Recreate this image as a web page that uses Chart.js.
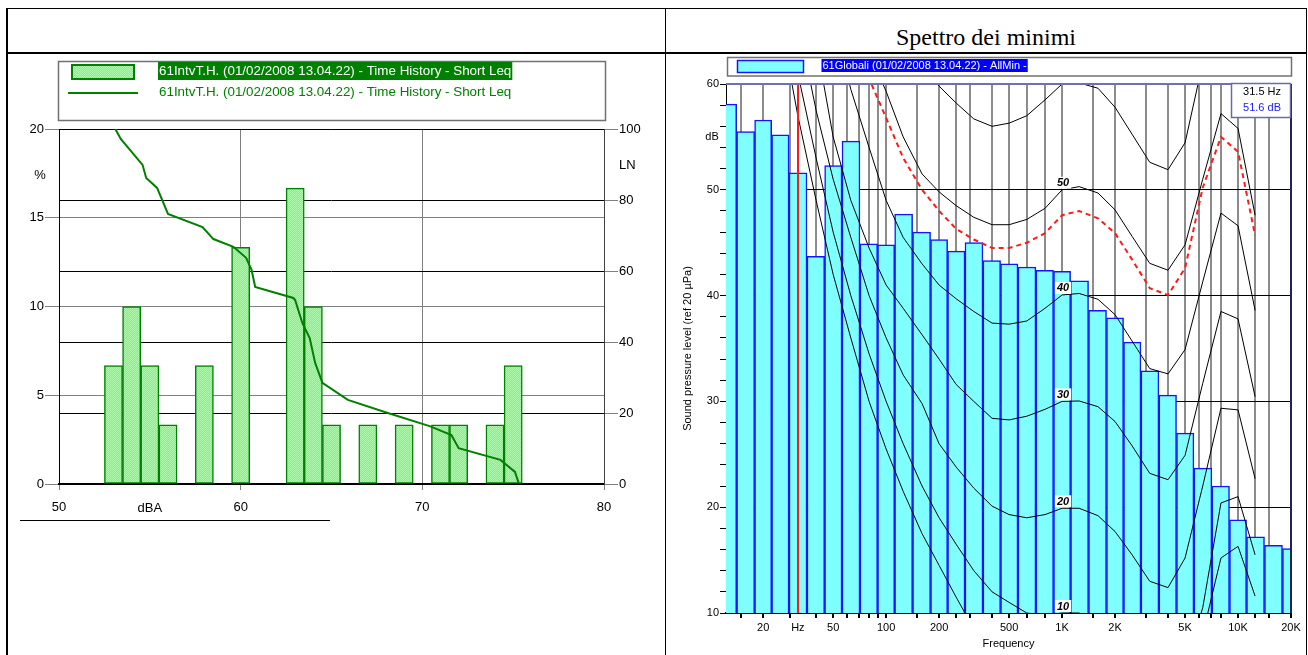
<!DOCTYPE html>
<html>
<head>
<meta charset="utf-8">
<script src="https://cdn.jsdelivr.net/npm/chart.js@4.4.1/dist/chart.umd.min.js"></script>
<style>
  body { margin: 0; background: #fff; }
  #page { position: relative; width: 1308px; height: 655px; overflow: hidden; }
  .ln { position: absolute; background: #000; }
  #title { position: absolute; left: 666px; width: 640px; top: 24px; line-height: 27px; text-align: center;
           font: 24px "Liberation Serif", "Times New Roman", serif; color: #000; }
  canvas { position: absolute; }
</style>
</head>
<body>
<div id="page">
  <div class="ln" style="left:6px;top:8px;width:1301px;height:1px"></div>
  <div class="ln" style="left:6px;top:8px;width:2px;height:647px"></div>
  <div class="ln" style="left:665px;top:8px;width:1px;height:647px"></div>
  <div class="ln" style="left:1306px;top:8px;width:1px;height:647px"></div>
  <div class="ln" style="left:6px;top:52px;width:1301px;height:2px"></div>
  <div class="ln" style="left:20px;top:520px;width:310px;height:1px"></div>
  <div id="title">Spettro dei minimi</div>
  <canvas id="histo" width="660" height="520" style="left:0;top:0"></canvas>
  <canvas id="spectrum" width="640" height="599" style="left:668px;top:56px"></canvas>
</div>
<script>
// ---- pannello sinistro: distribuzione livelli
const histLabel = '61IntvT.H. (01/02/2008 13.04.22) - Time History - Short Leq';
const dbaBins   = [53, 54, 55, 56, 57, 58, 59, 60, 61, 62, 63, 64, 65, 66, 67, 68, 69, 70, 71, 72, 73, 74, 75];
const pctValues = [6.67, 10, 6.67, 3.33, 0, 6.67, 0, 13.33, 0, 0, 16.67, 10, 3.33, 0, 3.33, 0, 3.33, 0, 3.33, 3.33, 0, 3.33, 6.67];
// curva cumulativa LN
const lnLevels  = [53.1, 53.4, 54.6, 54.8, 55.4, 56.0, 57.9, 58.5, 59.6, 60.3, 60.6, 60.8, 62.9, 63.0, 63.4, 63.8, 64.1, 64.5, 65.9, 68.1, 70.4, 71.6, 72.0, 74.3, 75.1, 75.3];
const lnPercent = [100, 97.2, 89.9, 86.2, 83.4, 76.1, 72.4, 69.0, 66.8, 63.7, 60.3, 55.5, 52.4, 51.8, 45.3, 41.1, 34.1, 28.5, 23.7, 20.0, 16.3, 13.8, 10.1, 6.8, 3.4, 0.3];

// ---- pannello destro: spettro dei minimi
const spectrumLabel = '61Globali (01/02/2008 13.04.22) - AllMin -';
const bandFreqs = [12.5, 16, 20, 25, 31.5, 40, 50, 63, 80, 100, 125, 160, 200, 250, 315, 400, 500, 630, 800,
                   1000, 1250, 1600, 2000, 2500, 3150, 4000, 5000, 6300, 8000, 10000, 12500, 16000, 20000];
const minLevels = [58.1, 55.5, 56.6, 55.2, 51.6, 43.7, 52.3, 54.6, 44.9, 44.8, 47.7, 46.0, 45.3, 44.2, 45.0, 43.3, 43.0, 42.7, 42.4,
                   42.3, 41.4, 38.6, 37.9, 35.6, 32.9, 30.6, 27.0, 23.7, 22.0, 18.8, 17.2, 16.4, 16.1];
const cursorFreq = 31.5;

// curve isofoniche
const contourFreqs = [20, 25, 31.5, 40, 50, 63, 80, 100, 125, 160, 200, 250, 315, 400, 500, 630, 800,
                      1000, 1250, 1600, 2000, 2500, 3150, 4000, 5000, 6300, 8000, 10000, 12500];
const phon0  = [74, 66, 57, 49, 42, 36, 30, 25.5, 21.5, 17.5, 14.5, 11.5, 8.5, 6, 4.5, 3, 2, 2, 2, 1, -1, -3, -4, -4, -1, 8, 15.2, 16.3, 11.6];
const phon10 = [80, 70.5, 61, 53, 46, 40, 34.5, 30, 26, 22, 19, 16.5, 14, 12, 11, 10, 9.8, 10, 10, 9, 7.5, 5, 3.5, 3, 5, 10.5, 20.4, 21.0, 15.5];
const phon20 = [88, 78, 66, 57.5, 51, 45.5, 40, 36, 32.5, 29.8, 26, 23.8, 21.8, 20.1, 19.3, 19.0, 19.3, 19.9, 19.9, 19.2, 17.7, 15.5, 13.0, 12.4, 15.2, 22, 29.35, 29.2, 22.7];
const phon30 = [96, 86, 76, 64, 55, 49, 44.5, 41, 38.8, 36.3, 34, 31.6, 30, 28.4, 28.25, 28.6, 29.25, 30, 30.04, 29.5, 28.1, 25.8, 23.2, 22.6, 24.9, 31.7, 38.5, 37.8, 30.45];
const phon40 = [104, 94, 84, 74, 66, 59.5, 54, 49, 45.5, 43, 41, 39.7, 38.5, 37.4, 37.3, 37.6, 38.8, 40.06, 40.2, 39.65, 38.2, 35.7, 33.1, 32.6, 34.9, 41.3, 47.8, 46.6, 38.6];
const phon50 = [112, 102, 92, 83, 75, 68.5, 63, 59.3, 55, 51.5, 49.8, 48.5, 47.4, 46.7, 46.7, 47.2, 48.25, 50, 50.3, 49.7, 48.1, 45.6, 43.05, 42.4, 44.8, 51, 57.2, 55.8, 47.6];
const phon60 = [120, 110, 100, 91, 84, 77.5, 72, 68, 65, 62, 59.8, 58.2, 56.7, 56.0, 56.3, 57.0, 58.5, 60.0, 60.1, 59.6, 57.8, 55.25, 52.6, 51.9, 54.45, 62, 67, 65.5, 61];
const loudnessCurve = [109, 99.5, 89.5, 80.5, 72.5, 66, 60.5, 56.8, 53, 50, 48, 46.3, 45.3, 44.5, 44.5, 45.0, 45.9, 47.6, 48.0, 47.3, 45.9, 43.4, 40.7, 40.05, 42.6, 50.2, 55.0, 53.6, 45.7];

// griglia e etichette asse frequenze
const gridFreqs = [15, 20, 28.5, 31.5, 40, 50, 60, 70, 80, 90, 100, 150, 200, 250, 300, 400, 500, 630, 800,
                   1000, 1500, 2000, 3000, 4000, 5000, 6000, 7000, 8000, 10000, 12500, 15000, 20000];
const freqTickLabels = { 20: '20', 31.5: 'Hz', 50: '50', 100: '100', 200: '200', 500: '500',
                         1000: '1K', 2000: '2K', 5000: '5K', 10000: '10K', 20000: '20K' };

Chart.defaults.font.family = '"Liberation Sans", Arial, sans-serif';
Chart.defaults.color = '#000';
const FONT = '"Liberation Sans", Arial, sans-serif';

function hatchPattern() {
  const c = document.createElement('canvas');
  c.width = 2; c.height = 2;
  const g = c.getContext('2d');
  g.fillStyle = '#86ee86'; g.fillRect(0, 0, 2, 2);
  g.fillStyle = '#b0fab0'; g.fillRect(0, 0, 1, 1); g.fillRect(1, 1, 1, 1);
  return g.createPattern(c, 'repeat');
}

const histDecor = {
  id: 'histDecor',
  afterDraw(chart) {
    const { ctx, chartArea: a } = chart;
    const line = chart.data.datasets[0], bar = chart.data.datasets[1];
    ctx.save();
    ctx.strokeStyle = '#707070'; ctx.lineWidth = 1.5;
    ctx.strokeRect(58.5, 61.5, 547, 59);
    ctx.fillStyle = bar.backgroundColor; ctx.fillRect(71, 64, 64, 16);
    ctx.strokeStyle = bar.borderColor; ctx.lineWidth = 2; ctx.strokeRect(72, 65, 62, 14);
    ctx.font = '13.4px ' + FONT;
    ctx.textBaseline = 'middle';
    const w = ctx.measureText(bar.label).width;
    ctx.fillStyle = '#008000'; ctx.fillRect(158, 62, w + 2, 18);
    ctx.fillStyle = '#fff'; ctx.fillText(bar.label, 159, 71.5);
    ctx.strokeStyle = line.borderColor; ctx.lineWidth = 2;
    ctx.beginPath(); ctx.moveTo(68, 93); ctx.lineTo(138, 93); ctx.stroke();
    ctx.fillStyle = '#008000'; ctx.fillText(line.label, 159, 92);
    ctx.font = '13px ' + FONT;
    ctx.fillStyle = '#000';
    ctx.textAlign = 'center'; ctx.fillText('%', a.left - 19, a.top + 46);
    ctx.textAlign = 'left'; ctx.fillText('LN', a.right + 15, a.top + 36);
    ctx.textAlign = 'center'; ctx.fillText('dBA', chart.scales.x.getPixelForValue(55), a.bottom + 24);
    ctx.restore();
  }
};

new Chart(document.getElementById('histo'), {
  type: 'bar',
  data: {
    datasets: [
      {
        type: 'line', label: histLabel, yAxisID: 'yR', order: 1,
        data: lnLevels.map((x, i) => ({ x, y: lnPercent[i] })),
        borderColor: '#008000', borderWidth: 2, pointRadius: 0, tension: 0
      },
      {
        type: 'bar', label: histLabel, yAxisID: 'y', order: 2,
        data: dbaBins.map((x, i) => ({ x, y: pctValues[i] })),
        backgroundColor: hatchPattern(), borderColor: '#008000', borderWidth: 1.5, borderSkipped: false,
        barThickness: 'flex', barPercentage: 1, categoryPercentage: 1
      }
    ]
  },
  options: {
    responsive: false, animation: false, devicePixelRatio: 1, events: [],
    layout: { padding: { top: 129 } },
    plugins: { legend: { display: false }, tooltip: { enabled: false } },
    scales: {
      x: {
        type: 'linear', min: 50, max: 80, offset: false,
        afterFit(s) { s.height = 36; },
        ticks: { stepSize: 10, font: { size: 13 }, padding: 10, color: '#000' },
        grid: {
          offset: false, tickLength: 6, tickColor: '#808080',
          color: c => (c.tick && c.tick.value === 80) ? '#404040' : (c.tick && c.tick.value > 50 ? '#808080' : 'transparent')
        },
        border: { color: '#000', width: 2 }
      },
      y: {
        position: 'left', min: 0, max: 20,
        afterFit(s) { s.width = 59; },
        ticks: { stepSize: 5, font: { size: 13 }, padding: 1, color: '#000' },
        grid: { color: '#808080', tickColor: '#808080', tickLength: 14 },
        border: { color: '#000' }
      },
      yR: {
        position: 'right', min: 0, max: 100,
        afterFit(s) { s.width = 56; },
        ticks: { stepSize: 20, font: { size: 13 }, padding: 1, color: '#000' },
        grid: { color: '#000', tickColor: '#808080', tickLength: 14 },
        border: { color: '#404040' }
      }
    }
  },
  plugins: [histDecor]
});

const contourTags = [['10', phon10], ['20', phon20], ['30', phon30], ['40', phon40], ['50', phon50]];

const spectrumDecor = {
  id: 'spectrumDecor',
  afterDatasetsDraw(chart) {
    const { ctx, chartArea: a, scales: { x, y } } = chart;
    ctx.save();
    const cx = Math.round(x.getPixelForValue(cursorFreq));
    ctx.strokeStyle = '#ff1a1a'; ctx.lineWidth = 2;
    ctx.beginPath(); ctx.moveTo(cx, a.top); ctx.lineTo(cx, a.bottom); ctx.stroke();
    const k = contourFreqs.indexOf(1000);
    const px = x.getPixelForValue(1000) + 1;
    ctx.font = 'italic bold 11px ' + FONT;
    ctx.textAlign = 'center'; ctx.textBaseline = 'bottom';
    contourTags.forEach(([tag, vals]) => {
      const py = y.getPixelForValue(vals[k]);
      const tw = ctx.measureText(tag).width;
      ctx.fillStyle = '#fff'; ctx.fillRect(px - tw / 2 - 2, py - 13, tw + 4, 12);
      ctx.fillStyle = '#000'; ctx.fillText(tag, px, py - 1);
    });
    ctx.restore();
  },
  afterDraw(chart) {
    const { ctx, chartArea: a } = chart;
    const bars = chart.data.datasets[chart.data.datasets.length - 1];
    ctx.save();
    // cornice area grafico
    ctx.lineWidth = 2;
    ctx.strokeStyle = '#7070b0';
    ctx.beginPath(); ctx.moveTo(a.left, a.top); ctx.lineTo(a.right, a.top); ctx.stroke();
    ctx.strokeStyle = '#20205a';
    ctx.beginPath(); ctx.moveTo(a.right, a.top); ctx.lineTo(a.right, a.bottom); ctx.stroke();
    // legenda
    ctx.strokeStyle = '#707070'; ctx.lineWidth = 1.5;
    ctx.strokeRect(59.5, 1.5, 564, 18.5);
    ctx.fillStyle = bars.backgroundColor; ctx.fillRect(69, 4, 67, 13);
    ctx.strokeStyle = bars.borderColor; ctx.lineWidth = 1.5; ctx.strokeRect(69.5, 4.5, 66, 12);
    ctx.font = '11px ' + FONT; ctx.textBaseline = 'middle'; ctx.textAlign = 'left';
    const w = ctx.measureText(bars.label).width;
    ctx.fillStyle = '#0000ff'; ctx.fillRect(153.5, 3, w + 2, 13);
    ctx.fillStyle = '#fff'; ctx.fillText(bars.label, 154.5, 10);
    // riquadro cursore
    ctx.fillStyle = '#fff'; ctx.fillRect(563, a.top, a.right - 563, 34);
    ctx.strokeStyle = '#6a6aa8'; ctx.lineWidth = 1.5; ctx.strokeRect(563.5, a.top - 0.5, a.right - 564, 34);
    ctx.textAlign = 'right';
    ctx.fillStyle = '#000'; ctx.fillText(cursorFreq + ' Hz', a.right - 10, a.top + 8);
    ctx.fillStyle = '#2020ff'; ctx.fillText(minLevels[bandFreqs.indexOf(cursorFreq)].toFixed(1) + ' dB', a.right - 10, a.top + 23.5);
    // titoli assi
    ctx.fillStyle = '#000'; ctx.textAlign = 'center';
    ctx.fillText('dB', a.left - 14, a.top + 53);
    ctx.fillText('Frequency', (a.left + a.right) / 2, a.bottom + 31);
    ctx.translate(20, (a.top + a.bottom) / 2); ctx.rotate(-Math.PI / 2);
    ctx.fillText('Sound pressure level (ref 20 \u00b5Pa)', 0, 0);
    ctx.restore();
  }
};

const contourSets = [phon0, phon10, phon20, phon30, phon40, phon50, phon60].map(vals => ({
  type: 'line', order: 1,
  data: contourFreqs.map((f, i) => ({ x: f, y: vals[i] })),
  borderColor: '#000', borderWidth: 1, pointRadius: 0, tension: 0
}));

new Chart(document.getElementById('spectrum'), {
  type: 'bar',
  data: {
    datasets: [
      ...contourSets,
      {
        type: 'line', order: 1,
        data: contourFreqs.map((f, i) => ({ x: f, y: loudnessCurve[i] })),
        borderColor: '#ff1a1a', borderWidth: 2, borderDash: [5, 4], pointRadius: 0, tension: 0
      },
      {
        type: 'bar', label: spectrumLabel, order: 2,
        data: bandFreqs.map((f, i) => ({ x: f, y: minLevels[i] })),
        backgroundColor: '#80ffff', borderColor: '#1414ff', borderWidth: 1.5, borderSkipped: 'start',
        barThickness: 'flex', barPercentage: 1, categoryPercentage: 1
      }
    ]
  },
  options: {
    responsive: false, animation: false, devicePixelRatio: 1, events: [],
    layout: { padding: { top: 28, right: 17 } },
    plugins: { legend: { display: false }, tooltip: { enabled: false } },
    scales: {
      x: {
        type: 'logarithmic', min: 12.3, max: 20000, offset: false,
        afterBuildTicks(s) { s.ticks = gridFreqs.map(v => ({ value: v })); },
        afterFit(s) { s.height = 42; },
        ticks: { autoSkip: false, maxRotation: 0, font: { size: 11 }, padding: 3, color: '#000',
                 callback: v => freqTickLabels[v] ?? '' },
        grid: {
          offset: false, lineWidth: 2, tickLength: 5,
          color: c => (c.tick && c.tick.value === cursorFreq) ? 'transparent' : '#8c8c8c',
          tickColor: c => (c.tick && c.tick.value === cursorFreq) ? 'transparent' : '#000'
        },
        border: { color: '#000', width: 2 }
      },
      y: {
        min: 10, max: 60,
        afterFit(s) { s.width = 58; },
        ticks: { stepSize: 2, autoSkip: false, font: { size: 11 }, padding: 1, color: '#000',
                 callback: v => (v % 10 === 0 ? v : '') },
        grid: { tickLength: 6, tickColor: '#000',
                color: c => (c.tick && c.tick.value % 10 === 0) ? '#000' : 'transparent' },
        border: { color: '#000' }
      }
    }
  },
  plugins: [spectrumDecor]
});
</script>
</body>
</html>
